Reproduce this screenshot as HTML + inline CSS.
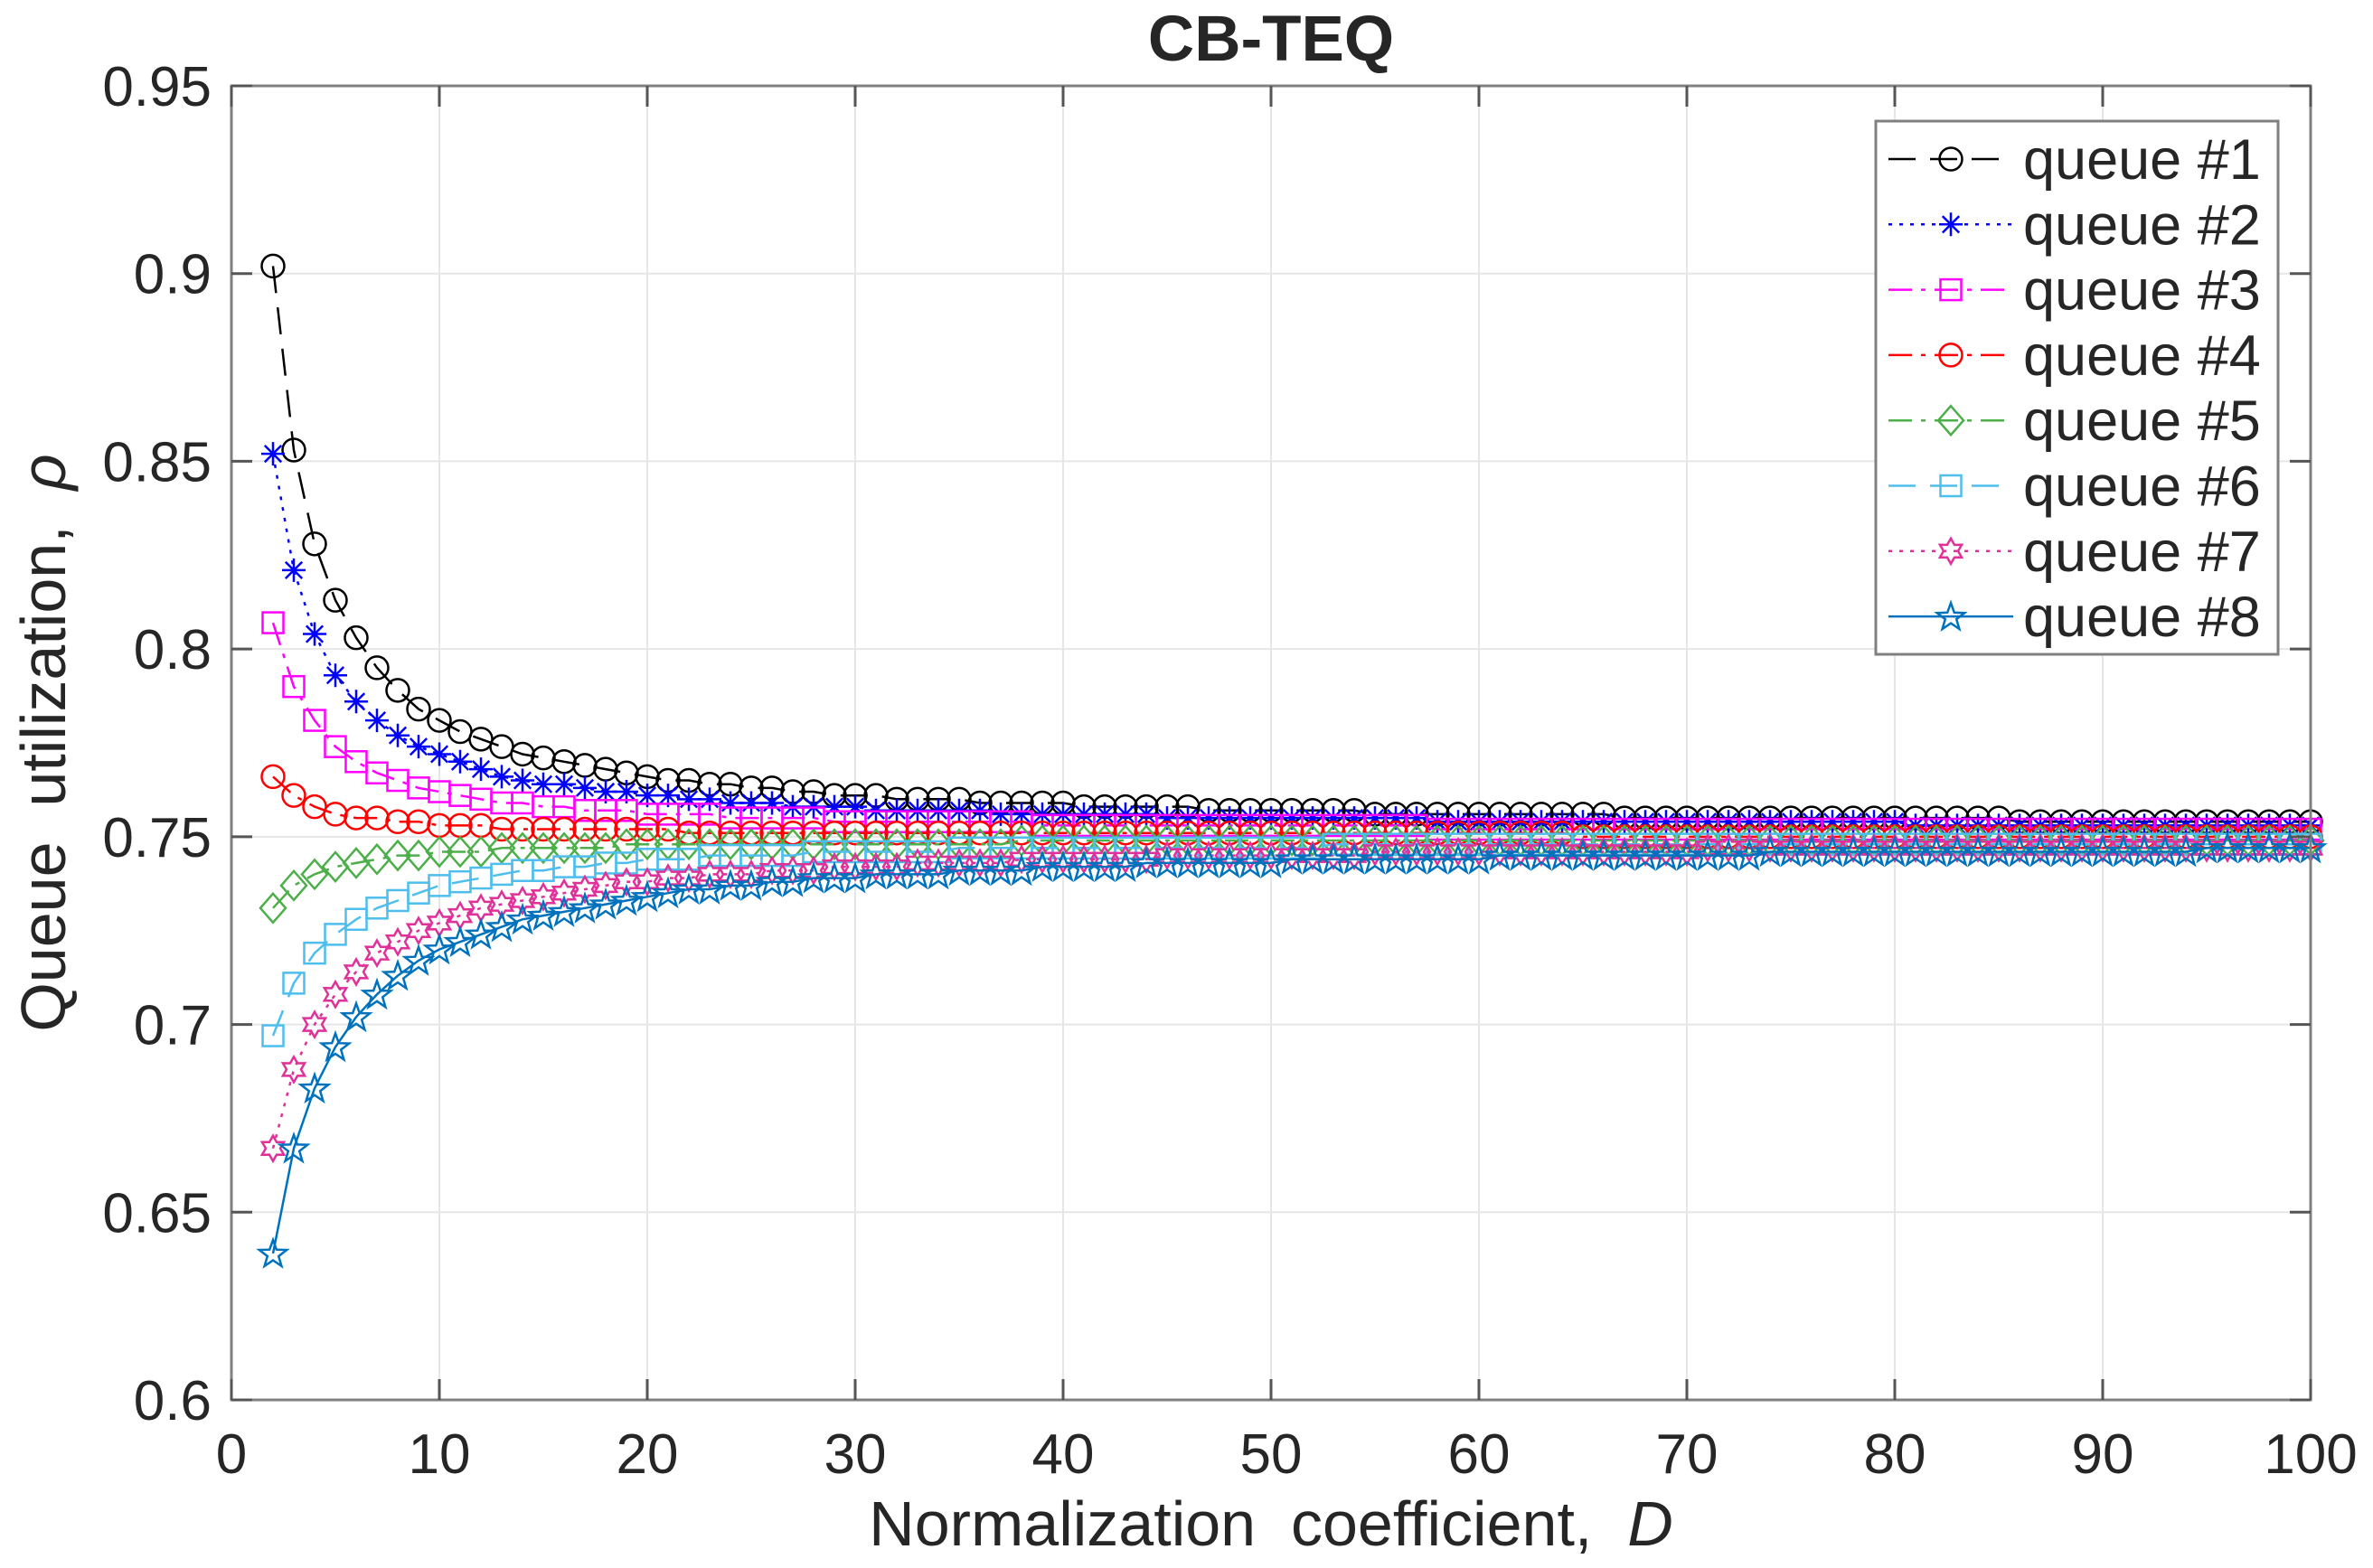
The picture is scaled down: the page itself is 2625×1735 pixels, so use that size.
<!DOCTYPE html>
<html><head><meta charset="utf-8"><title>CB-TEQ</title>
<style>html,body{margin:0;padding:0;background:#fff;}svg{display:block;font-family:"Liberation Sans",Arial,sans-serif;}</style>
</head><body>
<svg id="chart" width="2625" height="1735" viewBox="0 0 2625 1735" xmlns="http://www.w3.org/2000/svg">
<rect x="0" y="0" width="2625" height="1735" fill="#fff"/>
<g id="grid"></g>
<g id="series"></g>
<g id="axes"></g>
<text x="1406" y="67" text-anchor="middle" font-size="71" font-weight="bold" fill="#262626">CB-TEQ</text>
<text x="1406" y="1710" text-anchor="middle" font-size="70" fill="#262626" xml:space="preserve">Normalization  coefficient,  <tspan font-style="italic">D</tspan></text>
<text transform="translate(72,822) rotate(-90)" text-anchor="middle" font-size="70" fill="#262626" xml:space="preserve">Queue  utilization,  <tspan font-style="italic">ρ</tspan></text>
<g id="legend"></g>
</svg>
<script>
const xTicks = [0,10,20,30,40,50,60,70,80,90,100];
const yTicks = [0.6,0.65,0.7,0.75,0.8,0.85,0.9,0.95];
const yTickLabels = ["0.6","0.65","0.7","0.75","0.8","0.85","0.9","0.95"];
const seriesNames = ["queue #1","queue #2","queue #3","queue #4","queue #5","queue #6","queue #7","queue #8"];
const dValues = [2,3,4,5,6,7,8,9,10,11,12,13,14,15,16,17,18,19,20,21,22,23,24,25,26,27,28,29,30,31,32,33,34,35,36,37,38,39,40,41,42,43,44,45,46,47,48,49,50,51,52,53,54,55,56,57,58,59,60,61,62,63,64,65,66,67,68,69,70,71,72,73,74,75,76,77,78,79,80,81,82,83,84,85,86,87,88,89,90,91,92,93,94,95,96,97,98,99,100];
const q1 = [.902,.853,.828,.813,.803,.795,.789,.784,.781,.778,
.776,.774,.772,.771,.770,.769,.768,.767,.766,.765,
.765,.764,.764,.763,.763,.762,.762,.761,.761,.761,
.760,.760,.760,.760,.759,.759,.759,.759,.759,.758,
.758,.758,.758,.758,.758,.757,.757,.757,.757,.757,
.757,.757,.757,.756,.756,.756,.756,.756,.756,.756,
.756,.756,.756,.756,.756,.755,.755,.755,.755,.755,
.755,.755,.755,.755,.755,.755,.755,.755,.755,.755,
.755,.755,.755,.755,.754,.754,.754,.754,.754,.754,
.754,.754,.754,.754,.754,.754,.754,.754,.754];
const q2 = [.852,.821,.804,.793,.786,.781,.777,.774,.772,.770,
.768,.766,.765,.764,.764,.763,.762,.762,.761,.761,
.760,.760,.759,.759,.759,.758,.758,.758,.758,.757,
.757,.757,.757,.757,.757,.756,.756,.756,.756,.756,
.756,.756,.756,.755,.755,.755,.755,.755,.755,.755,
.755,.755,.755,.755,.755,.755,.754,.754,.754,.754,
.754,.754,.754,.754,.754,.754,.754,.754,.754,.754,
.754,.754,.754,.754,.754,.754,.754,.754,.754,.753,
.753,.753,.753,.753,.753,.753,.753,.753,.753,.753,
.753,.753,.753,.753,.753,.753,.753,.753,.753];
const q3 = [.807,.790,.781,.774,.770,.767,.765,.763,.762,.761,
.760,.759,.759,.758,.758,.757,.757,.757,.756,.756,
.756,.756,.755,.755,.755,.755,.755,.754,.754,.754,
.754,.754,.754,.754,.754,.754,.754,.753,.753,.753,
.753,.753,.753,.753,.753,.753,.753,.753,.753,.753,
.753,.753,.753,.753,.753,.753,.752,.752,.752,.752,
.752,.752,.752,.752,.752,.752,.752,.752,.752,.752,
.752,.752,.752,.752,.752,.752,.752,.752,.752,.752,
.752,.752,.752,.752,.752,.752,.752,.752,.752,.752,
.752,.752,.752,.752,.752,.752,.752,.752,.752];
const q4 = [.766,.761,.758,.756,.755,.755,.754,.754,.753,.753,
.753,.752,.752,.752,.752,.752,.752,.752,.752,.752,
.751,.751,.751,.751,.751,.751,.751,.751,.751,.751,
.751,.751,.751,.751,.751,.751,.751,.751,.751,.751,
.751,.751,.751,.751,.751,.751,.751,.751,.751,.751,
.751,.751,.751,.751,.751,.751,.751,.751,.751,.751,
.751,.751,.751,.750,.750,.750,.750,.750,.750,.750,
.750,.750,.750,.750,.750,.750,.750,.750,.750,.750,
.750,.750,.750,.750,.750,.750,.750,.750,.750,.750,
.750,.750,.750,.750,.750,.750,.750,.750,.750];
const q5 = [.731,.737,.740,.742,.743,.744,.745,.745,.746,.746,
.746,.747,.747,.747,.747,.747,.747,.748,.748,.748,
.748,.748,.748,.748,.748,.748,.748,.748,.748,.748,
.748,.748,.748,.748,.748,.748,.749,.749,.749,.749,
.749,.749,.749,.749,.749,.749,.749,.749,.749,.749,
.749,.749,.749,.749,.749,.749,.749,.749,.749,.749,
.749,.749,.749,.749,.749,.749,.749,.749,.749,.749,
.749,.749,.749,.749,.749,.749,.749,.749,.749,.749,
.749,.749,.749,.749,.749,.749,.749,.749,.749,.749,
.749,.749,.749,.749,.749,.749,.749,.749,.749];
const q6 = [.697,.711,.719,.724,.728,.731,.733,.735,.737,.738,
.739,.740,.741,.741,.742,.742,.743,.743,.744,.744,
.744,.745,.745,.745,.745,.745,.746,.746,.746,.746,
.746,.746,.746,.747,.747,.747,.747,.747,.747,.747,
.747,.747,.747,.747,.747,.747,.747,.747,.747,.747,
.747,.748,.748,.748,.748,.748,.748,.748,.748,.748,
.748,.748,.748,.748,.748,.748,.748,.748,.748,.748,
.748,.748,.748,.748,.748,.748,.748,.748,.748,.748,
.748,.748,.748,.748,.748,.748,.748,.748,.748,.748,
.748,.748,.748,.748,.748,.748,.748,.748,.748];
const q7 = [.667,.688,.700,.708,.714,.719,.722,.725,.727,.729,
.731,.732,.733,.734,.735,.736,.737,.738,.738,.739,
.739,.740,.740,.740,.741,.741,.741,.742,.742,.742,
.742,.743,.743,.743,.743,.743,.744,.744,.744,.744,
.744,.744,.744,.745,.745,.745,.745,.745,.745,.745,
.745,.745,.745,.746,.746,.746,.746,.746,.746,.746,
.746,.746,.746,.746,.746,.746,.746,.746,.746,.747,
.747,.747,.747,.747,.747,.747,.747,.747,.747,.747,
.747,.747,.747,.747,.747,.747,.747,.747,.747,.747,
.747,.747,.747,.747,.747,.747,.747,.747,.747];
const q8 = [.639,.667,.683,.694,.702,.708,.713,.717,.720,.722,
.724,.726,.728,.729,.730,.731,.732,.733,.734,.735,
.736,.736,.737,.737,.738,.738,.739,.739,.739,.740,
.740,.740,.740,.741,.741,.741,.741,.742,.742,.742,
.742,.742,.743,.743,.743,.743,.743,.743,.743,.744,
.744,.744,.744,.744,.744,.744,.744,.744,.744,.745,
.745,.745,.745,.745,.745,.745,.745,.745,.745,.745,
.745,.745,.746,.746,.746,.746,.746,.746,.746,.746,
.746,.746,.746,.746,.746,.746,.746,.746,.746,.746,
.746,.746,.746,.747,.747,.747,.747,.747,.747];

const NS = "http://www.w3.org/2000/svg";
const L = 256, R = 2556, T = 95, B = 1549;
const xMin = 0, xMax = 100, yMin = 0.6, yMax = 0.95;
function xs(v){ return L + (v - xMin) / (xMax - xMin) * (R - L); }
function ys(v){ return B - (v - yMin) / (yMax - yMin) * (B - T); }
function mk(tag, attrs, parent){ const e = document.createElementNS(NS, tag); for (const k in attrs) e.setAttribute(k, attrs[k]); parent.appendChild(e); return e; }

const grid = document.getElementById('grid');
const axes = document.getElementById('axes');
xTicks.forEach(t => {
  const g = mk('line', {x1: xs(t), x2: xs(t), y1: T, y2: B, stroke: '#e6e6e6', 'stroke-width': 2}, grid);
  
  
});
yTicks.forEach(t => {
  const g = mk('line', {x1: L, x2: R, y1: ys(t), y2: ys(t), stroke: '#e6e6e6', 'stroke-width': 2}, grid);
  
  
});
const frame = mk('rect', {x: L, y: T, width: R - L, height: B - T, fill: 'none', stroke: '#808080', 'stroke-width': 3}, axes);


xTicks.forEach(t => {
  const a = mk('line', {x1: xs(t), x2: xs(t), y1: B, y2: B - 23, stroke: '#555', 'stroke-width': 3}, axes);
  
  
  const b = mk('line', {x1: xs(t), x2: xs(t), y1: T, y2: T + 23, stroke: '#555', 'stroke-width': 3}, axes);
  
  
  const tx = mk('text', {x: xs(t), y: 1630, 'text-anchor': 'middle', 'font-size': 62, fill: '#262626'}, axes);
  tx.textContent = String(t);
  
  
});
yTicks.forEach((t, i) => {
  const a = mk('line', {x1: L, x2: L + 23, y1: ys(t), y2: ys(t), stroke: '#555', 'stroke-width': 3}, axes);
  
  
  const b = mk('line', {x1: R, x2: R - 23, y1: ys(t), y2: ys(t), stroke: '#555', 'stroke-width': 3}, axes);
  
  
  const tx = mk('text', {x: 234, y: ys(t) + 22, 'text-anchor': 'end', 'font-size': 62, fill: '#262626'}, axes);
  tx.textContent = yTickLabels[i];
  
  
});

function starPath(cx, cy, n, ro, ri){
  let d = '';
  for (let k = 0; k < 2 * n; k++) {
    const r = k % 2 ? ri : ro;
    const a = -Math.PI / 2 + k * Math.PI / n;
    d += (k ? 'L' : 'M') + (cx + r * Math.cos(a)).toFixed(1) + ' ' + (cy + r * Math.sin(a)).toFixed(1);
  }
  return d + 'Z';
}
function drawMarker(type, cx, cy, color, parent){
  let e;
  const st = {fill: 'none', stroke: color, 'stroke-width': 2.5};
  if (type === 'circle') e = mk('circle', Object.assign({cx: cx, cy: cy, r: 12.5}, st), parent);
  else if (type === 'square') e = mk('rect', Object.assign({x: cx - 11.5, y: cy - 11.5, width: 23, height: 23}, st), parent);
  else if (type === 'diamond') e = mk('path', Object.assign({d: `M${cx} ${cy-16}L${cx+14} ${cy}L${cx} ${cy+16}L${cx-14} ${cy}Z`}, st), parent);
  else if (type === 'asterisk') {
    const s = 13, d2 = 9.2;
    e = mk('path', Object.assign({d: `M${cx-s} ${cy}L${cx+s} ${cy}M${cx} ${cy-s}L${cx} ${cy+s}M${cx-d2} ${cy-d2}L${cx+d2} ${cy+d2}M${cx-d2} ${cy+d2}L${cx+d2} ${cy-d2}`}, st), parent);
  }
  else if (type === 'hexagram') e = mk('path', Object.assign({d: starPath(cx, cy, 6, 14, 8)}, st), parent);
  else if (type === 'pentagram') e = mk('path', Object.assign({d: starPath(cx, cy + 1, 5, 16, 6.5)}, st), parent);
  
  
  return e;
}

const seriesData = [q1, q2, q3, q4, q5, q6, q7, q8];
const styles = [
  {color: '#000000', dash: '30 16', marker: 'circle'},
  {color: '#0000ff', dash: '4 8', marker: 'asterisk'},
  {color: '#ff00ff', dash: '26 10 5 10', marker: 'square'},
  {color: '#ff0000', dash: '26 10 5 10', marker: 'circle'},
  {color: '#4daf4a', dash: '26 10 5 10', marker: 'diamond'},
  {color: '#4dbeee', dash: '30 16', marker: 'square'},
  {color: '#e0309a', dash: '4 8', marker: 'hexagram'},
  {color: '#0072bd', dash: 'none', marker: 'pentagram'}
];
const sg = document.getElementById('series');
seriesData.forEach((vals, si) => {
  const st = styles[si];
  const g = mk('g', {}, sg);
  
  
  const pts = vals.map((v, i) => xs(dValues[i]).toFixed(1) + ',' + ys(v).toFixed(1)).join(' ');
  const pl = mk('polyline', {points: pts, fill: 'none', stroke: st.color, 'stroke-width': 2.5, 'stroke-dasharray': st.dash}, g);
  
  
  vals.forEach((v, i) => drawMarker(st.marker, xs(dValues[i]), ys(v), st.color, g));
});

const lg = document.getElementById('legend');
const box = mk('rect', {x: 2075, y: 134, width: 445, height: 590, fill: '#fff', stroke: '#808080', 'stroke-width': 3}, lg);


seriesNames.forEach((name, i) => {
  const st = styles[i];
  const y = 176 + i * 72.3;
  const g = mk('g', {}, lg);
  
  
  const ln = mk('line', {x1: 2089, x2: 2227, y1: y, y2: y, stroke: st.color, 'stroke-width': 2.5, 'stroke-dasharray': st.dash}, g);
  
  
  drawMarker(st.marker, 2158, y, st.color, g);
  const tx = mk('text', {x: 2238, y: y + 22, 'font-size': 63, fill: '#262626'}, g);
  tx.textContent = name;
  
  
});
</script>
</body></html>
